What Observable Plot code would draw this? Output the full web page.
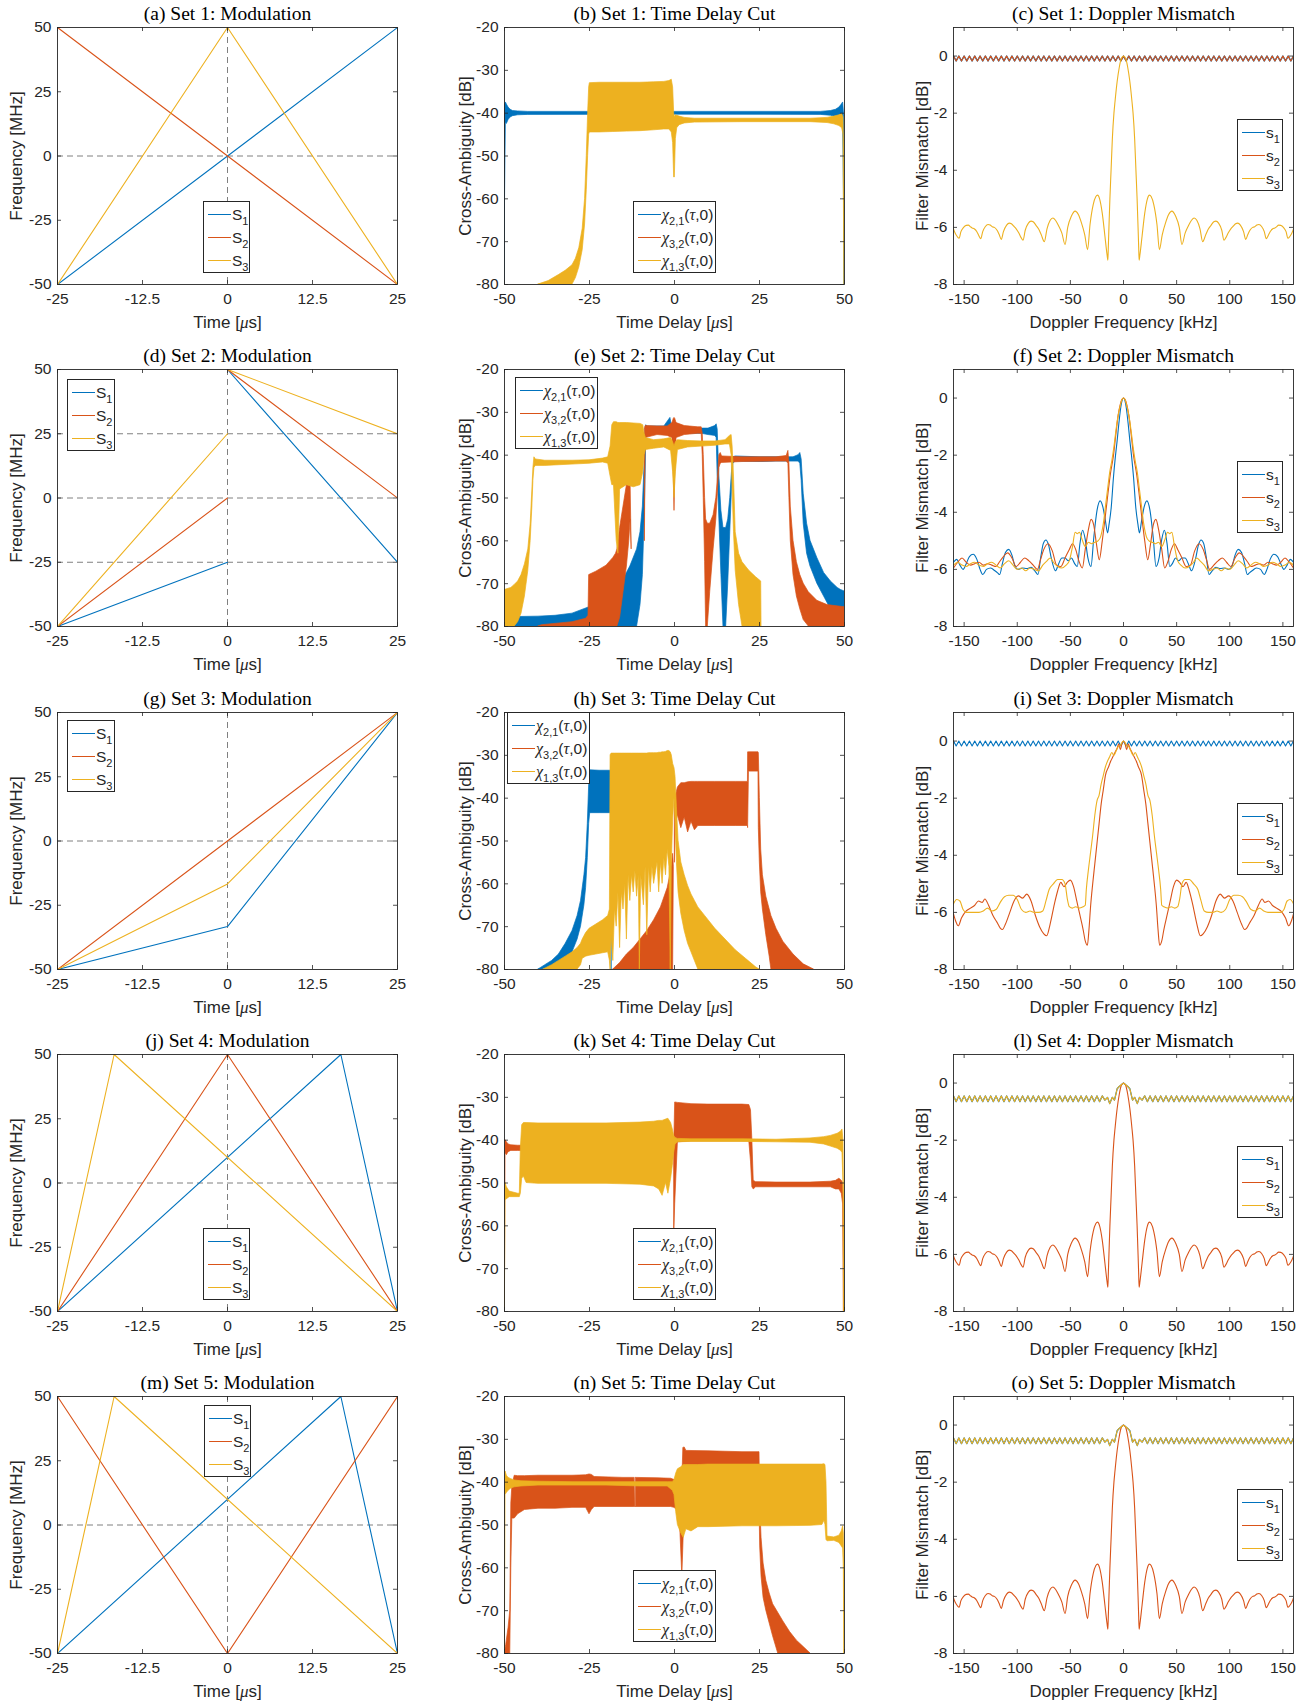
<!DOCTYPE html>
<html><head><meta charset="utf-8">
<script src="https://cdn.jsdelivr.net/npm/d3@7"></script>
<script src="https://cdn.jsdelivr.net/npm/@observablehq/plot@0.6"></script>
<style>
body{margin:0;background:#fff;}
#fig{position:relative;width:1314px;height:1708px;background:#fff;overflow:hidden;}
.panel{position:absolute;}
.leg{position:absolute;box-sizing:border-box;border:1px solid #262626;background:#fff;font-family:"Liberation Sans",Arial,sans-serif;font-size:15.5px;color:#262626;padding-top:1px;}
.leg .row{display:flex;align-items:center;height:23px;white-space:nowrap;}
.leg .sw{display:inline-block;width:23px;height:0;margin-left:4px;margin-right:1px;}
.leg sub{font-size:11px;vertical-align:-5px;line-height:0;}
.leg .gk{font-family:"Liberation Serif","Times New Roman",serif;font-style:italic;font-size:16px;}
</style></head>
<body><div id="fig"></div>
<script>
// ---------- colours ----------
const C = {blue:"#0072BD", orange:"#D95319", yellow:"#EDB120"};

// ---------- modulation data (time µs, frequency MHz), arrays of segments ----------
const modA_S1 = [[[-25,-50],[25,50]]];
const modA_S2 = [[[-25,50],[25,-50]]];
const modA_S3 = [[[-25,-50],[0,50],[25,-50]]];
const modA_hdash = [0], modA_vdash = [0];

const modD_S1 = [[[-25,-50],[0,-25]],[[0,50],[25,-25]]];
const modD_S2 = [[[-25,-50],[0,0]],[[0,50],[25,0]]];
const modD_S3 = [[[-25,-50],[0,25]],[[0,50],[25,25]]];
const modD_hdash = [-25,0,25], modD_vdash = [0];

const modG_S1 = [[[-25,-50],[0,-33.3],[25,50]]];
const modG_S2 = [[[-25,-50],[0,0],[25,50]]];
const modG_S3 = [[[-25,-50],[0,-16.7],[25,50]]];
const modG_hdash = [0], modG_vdash = [0];

const modJ_S1 = [[[-25,-50],[16.67,50],[25,-50]]];
const modJ_S2 = [[[-25,-50],[0,50],[25,-50]]];
const modJ_S3 = [[[-25,-50],[-16.67,50],[25,-50]]];
const modJ_hdash = [0], modJ_vdash = [0];

const modM_S1 = [[[-25,-50],[16.67,50],[25,-50]]];
const modM_S2 = [[[-25,50],[0,-50],[25,50]]];
const modM_S3 = [[[-25,-50],[-16.67,50],[25,-50]]];
const modM_hdash = [0], modM_vdash = [0];

// ---------- time delay cuts: segments of [delay µs, lower dB, upper dB] envelopes ----------
const tdcB_chi21 = [[
 [-50,-80,-45],[-49.85,-60,-38],[-49.6,-42.3,-37.5],[-49.3,-42.5,-38],[-48.8,-41.6,-38.7],[-48.2,-41,-39.2],[-47.5,-40.7,-39.5],[-46,-40.5,-39.6],[-43,-40.4,-39.7],[0,-40.35,-39.7],[43,-40.4,-39.7],[46,-40.6,-39.5],[47.5,-40.9,-39.2],[48.5,-41.5,-38.7],[49.2,-42,-38],[49.6,-42.5,-37.5],[49.85,-60,-40],[50,-80,-50]
]];
const tdcB_chi13 = [[
 [-40,-80,-80],[-37,-80,-79.2],[-34,-80,-77.8],[-32,-80,-76.8],[-30,-80,-75.5],[-29,-78.5,-74],[-28,-76,-71.5],[-27,-72,-67],[-26.3,-66,-60],[-25.8,-58,-50],[-25.4,-50,-40],[-25.1,-45,-34],[-24.9,-44.5,-33],[-22,-44.5,-32.9],[-18,-44.4,-32.9],[-14,-44.3,-32.9],[-10,-44.2,-32.9],[-6,-44,-32.8],[-3,-43.8,-32.7],[-1.5,-43.8,-32.5],[-0.8,-44.5,-32.2],[-0.4,-47,-34],[-0.1,-55,-40],[0.1,-55,-41],[0.4,-46,-40.5],[0.8,-43.5,-40.6],[1.5,-42.8,-40.8],[3,-42.4,-41.1],[6,-42.2,-41.3],[20,-42.1,-41.3],[40,-42.1,-41.3],[45,-42.3,-41.1],[47,-42.6,-40.8],[48.5,-43,-40.5],[49.3,-43.5,-40.2],[49.7,-45,-41],[49.9,-70,-50],[50,-80,-80]
]];

const tdcE_chi21 = [[
 [-47.5,-80,-80],[-47,-80,-77.8],[-40,-80,-77.7],[-35,-80,-77.5],[-30,-80,-77],[-25,-80,-75.5],[-20,-80,-73.5],[-17,-80,-72],[-16.5,-80,-71.5],[-15,-80,-69],[-13,-80,-66],[-11,-80,-62],[-10,-75,-58],[-9.3,-68,-52],[-8.8,-55,-42],[-8.5,-45,-33.5],[-8.3,-35,-33],[-8,-35,-33.3],[-3,-35,-33.3],[-1.2,-35,-31.3],[-0.8,-35,-33],[2,-35,-33.5],[8,-35,-33.8],[10,-35.3,-33.8],[12,-35.5,-33.2],[12.4,-36,-32.8],[12.7,-45,-34],[13.2,-55,-45],[13.8,-68,-53],[14.4,-80,-57],[15.2,-80,-57],[15.8,-70,-55],[16.4,-58,-50],[16.9,-48,-44],[17.3,-42,-40.5],[18,-41.5,-40.3],[25,-41.6,-40.5],[30,-41.5,-40.5],[35,-41.5,-40.5],[36.5,-41.5,-40],[37,-42,-39.5],[37.4,-46,-41],[38,-56,-49],[39,-63,-56],[40,-66,-60],[42,-70,-64],[44,-73,-67.5],[46,-76,-69.5],[48,-79,-71],[49,-80,-71.5],[50,-80,-71.8]
]];
const tdcE_chi32 = [[
 [-40,-80,-80],[-39,-80,-79.7],[-30,-80,-79],[-26,-80,-78.2],[-25.3,-80,-77.5],[-25.1,-80,-68],[-23,-80,-67.2],[-20,-80,-65.8],[-18,-80,-64],[-17.2,-80,-63],[-16.8,-80,-62],[-16,-78,-57],[-15,-72,-52],[-14,-66,-47],[-13.3,-60,-45],[-12.9,-55,-47],[-12.6,-62,-62]
],[
 [-8.7,-60,-34],[-8.5,-36,-33.2],[-5,-35.3,-33.3],[-2,-35.5,-33.3],[-0.6,-36,-32.5],[-0.2,-45,-31.5],[0,-53,-31.3],[0.2,-45,-31.5],[0.6,-36,-32.5],[3,-35.3,-33.2],[7,-35,-33.5],[8,-35,-33.5],[8.3,-40,-35],[8.6,-50,-40],[9,-65,-50],[9.3,-80,-55],[9.8,-80,-56],[10.5,-72,-56],[11.5,-62,-54],[12.3,-55,-50],[12.8,-48,-45],[13.2,-43,-40],[13.6,-42,-39.5],[14,-41.8,-40.3],[20,-41.6,-40.5],[30,-41.5,-40.5],[33,-41.5,-40.2],[33.5,-42,-39],[33.8,-50,-42],[34.2,-60,-52],[35,-68,-60],[36,-73,-65],[37,-76,-68],[38,-78.5,-70],[39.5,-80,-72],[42,-80,-74],[45,-80,-75],[50,-80,-75.5]
]];
const tdcE_chi13 = [[
 [-50,-80,-71.5],[-48,-80,-71],[-47,-80,-70.3],[-46,-79,-69.5],[-45,-77,-68],[-44,-73,-65.5],[-43,-67,-62],[-42.3,-60,-56],[-41.8,-52,-48],[-41.5,-46,-43],[-41.2,-43,-40.5],[-40.8,-42.5,-41],[-38,-42.5,-41.3],[-30,-42.2,-41.3],[-25,-42,-41.2],[-21,-41.7,-40.8],[-19.5,-42,-40.5],[-18.8,-45,-38],[-18.3,-47,-33],[-17.8,-47,-32.3],[-17,-60,-32.3],[-16.5,-63,-32.5],[-16,-48,-32.5],[-14,-47,-32.5],[-12,-47.5,-32.6],[-10,-47,-32.7],[-9.2,-44,-33],[-8.8,-40,-35],[-8.4,-38.8,-36],[-6,-38.5,-36.5],[-3,-38.2,-36.3],[-1,-39,-36],[-0.4,-44,-37],[0,-50,-38],[0.4,-44,-37],[1,-38.8,-36.5],[4,-38.2,-36.7],[8,-38,-36.8],[12,-37.8,-36.8],[15,-37.5,-36.5],[16.3,-37.5,-35.5],[16.8,-40,-35.3],[17.1,-48,-38],[17.5,-58,-45],[18,-67,-58],[19,-75,-63],[20,-80,-65],[22,-80,-67],[24,-80,-68.5],[25.5,-80,-69.5],[25.6,-80,-80]
]];

const tdcH_chi21 = [[
 [-40,-80,-80],[-38,-80,-79],[-36,-80,-78],[-34,-79.5,-76.5],[-32,-78,-74],[-30,-76,-71],[-28.5,-73,-67.5],[-27.5,-70,-64],[-26.5,-65,-58],[-26,-61,-54],[-25.5,-54,-46],[-25.1,-46,-37],[-24.8,-43.5,-33.5],[-22,-43.5,-33.6],[-19,-43.5,-33.6],[-18.6,-43.5,-33.6],[-18.5,-80,-80]
]];
const tdcH_chi32 = [[
 [-18,-80,-80],[-16,-80,-78.5],[-14,-80,-76.5],[-12,-80,-75],[-10,-80,-73],[-8,-80,-71],[-6,-80,-68.5],[-4,-80,-65.5],[-2,-80,-61],[-1,-80,-57],[-0.4,-80,-53],[-0.2,-56,-56]
],[
 [0.1,-55,-42],[0.4,-46,-39.5],[1,-44,-37.5],[2,-47,-36.5],[3,-44.5,-36.5],[4,-48,-36.3],[5,-45.5,-36.2],[6,-47.5,-36.2],[7,-46.5,-36.2],[12,-46.5,-36.2],[18,-46.5,-36.2],[21.6,-46.5,-36.2],[21.65,-47,-29.3],[21.9,-33.8,-29.3],[24.7,-33.8,-29.3],[24.8,-47,-29.5],[25.1,-55,-40],[25.5,-62,-52],[26,-66,-58],[27,-72,-63],[28,-77,-66],[28.5,-80,-67.5],[30,-80,-70.5],[32,-80,-73.5],[35,-80,-76.5],[38,-80,-78.8],[41,-80,-80]
]];
const tdcH_chi13 = [[
 [-38.5,-80,-80],[-36,-80,-79],[-34,-80,-78],[-32,-80,-77],[-30,-80,-76],[-28.5,-80,-75],[-27.5,-79,-74],[-27,-77.5,-73],[-26,-77,-71.5],[-25,-76.8,-70.5],[-23,-76.5,-69.5],[-21,-76.2,-68.5],[-19.5,-76,-67.5],[-19,-78,-66],
 [-18.8,-80,-30],[-18.5,-72,-29.6],[-18,-78,-29.6],[-17.5,-66,-29.6],[-17,-70,-29.6],[-16.5,-62,-29.6],[-16,-75,-29.6],[-15.5,-62,-29.6],[-15,-66,-29.6],[-14.5,-60,-29.6],[-14,-73,-29.6],[-13.5,-58,-29.6],[-13,-64,-29.6],[-12.5,-58,-29.6],[-12,-62,-29.6],[-11.5,-57,-29.6],[-11,-63,-29.6],[-10.5,-58,-29.6],[-10.2,-80,-29.6],[-9.8,-58,-29.6],[-9,-65,-29.6],[-8.5,-56,-29.6],[-8,-72,-29.6],[-7.5,-56,-29.5],[-7,-62,-29.5],[-6.5,-56,-29.5],[-6,-60,-29.5],[-5,-55,-29.5],[-4.5,-62,-29.4],[-4,-55,-29.4],[-3.5,-60,-29.3],[-3,-54,-29.3],[-2.5,-58,-29.2],[-2,-52,-29],[-1.5,-56,-29],[-1.1,-80,-29.3],[-0.8,-56,-30],[-0.4,-45,-32],[0,-40,-33],[0.3,-45,-35],[0.7,-55,-42],[1.2,-62,-50],[2,-67,-55],[3,-71,-58],[4,-74,-60.5],[5,-76,-62.5],[6,-78,-64],[7,-80,-65.5],[9,-80,-67.5],[12,-80,-70.5],[15,-80,-73],[18,-80,-75.5],[21,-80,-77.5],[24,-80,-79.5],[25,-80,-80]
]];

const tdcK_chi32 = [[
 [-50,-80,-80],[-49.9,-80,-45],[-49.7,-43,-40],[-49.3,-43.5,-40.5],[-48.8,-42.8,-41],[-48,-42.5,-41.2],[-46,-42.5,-41.3],[-44,-42.5,-41.3],[-43.8,-42.5,-42.5]
],[
 [-0.1,-63,-42],[0.2,-55,-31.2],[1,-40.5,-31.3],[5,-40.3,-31.6],[10,-40.3,-31.7],[20,-40.3,-31.7],[22,-40.3,-31.8],[22.5,-45,-33],[22.9,-51,-40],[23.3,-51.5,-49.5],[24,-51,-49.8],[30,-51,-49.9],[40,-51,-49.9],[46,-51,-49.7],[47.5,-51.5,-49.5],[48.5,-51.5,-49],[49.2,-52.5,-49.5],[49.6,-55,-50],[49.8,-80,-55],[49.9,-80,-80]
]];
const tdcK_chi13 = [[
 [-50,-80,-80],[-49.9,-80,-55],[-49.7,-54,-50],[-49.3,-53.8,-51],[-48.5,-53.3,-52],[-46,-53.3,-52.5],[-45.5,-53.3,-52.5],[-45.2,-52.5,-42],[-44.8,-49,-36.5],[-44.3,-48.5,-36],[-43.5,-50,-36],[-40,-50.2,-36.1],[-30,-50.2,-36.1],[-20,-50.2,-36.1],[-10,-50.4,-35.9],[-6,-50.8,-35.7],[-4.5,-51.5,-35.5],[-3.5,-53,-35.5],[-2.5,-50,-35.2],[-1.8,-52.5,-35],[-1,-49,-36],[-0.5,-46,-37.5],[-0.1,-43,-39],[0.3,-41,-39.5],[1,-40.5,-39.7],[5,-40.4,-39.8],[20,-40.4,-39.8],[30,-40.5,-39.9],[40,-40.6,-39.6],[44,-41,-39.3],[46,-41.5,-39],[48,-42,-38.5],[49,-42.5,-38],[49.4,-43,-37.5],[49.7,-50,-40],[49.9,-80,-60],[50,-80,-80]
]];

const tdcN_chi32 = [[
 [-50,-80,-80],[-49.5,-80,-78],[-48.8,-80,-74],[-48.3,-80,-70],[-48,-60,-45],[-47.7,-48.5,-41],[-47,-48.5,-38.5],[-46,-47.5,-38.6],[-44,-46.5,-38.6],[-40,-46.2,-38.5],[-35,-46.2,-38.5],[-30,-46,-38.5],[-26,-46,-38.4],[-25,-47.5,-38.2],[-24.3,-46.5,-38.3],[-23.5,-45.8,-38.8],[-15,-45.8,-39],[-11.8,-45.8,-39],[-11.6,-45.8,-45.8]
],[
 [-11.4,-45.8,-39],[-5,-45.8,-39.1],[-1,-45.8,-39.2],[0,-46,-39.5],[1.5,-47,-40],[2.3,-62,-40],[2.6,-55,-32],[3,-45,-31.9],[3.5,-42,-32.7],[10,-42,-32.8],[20,-42,-33],[24.7,-42,-33],[25,-45,-33],[25.2,-55,-45],[25.6,-62,-53],[26.2,-67,-59],[27,-70,-63],[28,-73,-66],[29,-76,-68.5],[30.5,-80,-70.5],[32,-80,-72.5],[34,-80,-75],[36,-80,-77],[38,-80,-78.5],[40,-80,-80]
]];
const tdcN_chi13 = [[
 [-50,-80,-80],[-49.9,-80,-45],[-49.7,-43,-37.5],[-49.3,-42.5,-38.5],[-48.8,-42,-39],[-48,-41.5,-39.3],[-47,-41.2,-39.6],[-45,-41,-39.8],[-40,-40.8,-39.9],[-30,-40.8,-40],[-20,-40.8,-40],[-10,-41,-40],[-2,-41,-40],[-0.5,-42,-40],[0,-43,-39.5],[0.5,-47,-38],[1,-50,-37],[2,-52,-36.5],[2.7,-53,-36],[3.5,-51,-36],[5,-51.5,-36],[7,-50.5,-36],[10,-50.5,-35.9],[20,-50.3,-35.9],[30,-50.3,-35.9],[40,-50.2,-35.9],[43.5,-50,-35.9],[44.1,-49,-35.8],[44.4,-50,-36],[44.7,-53.5,-40],[45,-53.8,-52.7],[47,-53.7,-52.9],[48.5,-54.2,-52.5],[49.2,-55,-51.5],[49.6,-55.5,-50.3],[49.8,-60,-52],[49.95,-80,-60],[50,-80,-80]
]];

// ---------- Doppler mismatch curves: [Doppler kHz, mismatch dB] ----------
const dopRippleTop = [[-160,0],[-157.5,-0.17],[-155,0],[-152.5,-0.17],[-150,0],[-147.5,-0.17],[-145,0],[-142.5,-0.17],[-140,0],[-137.5,-0.17],[-135,0],[-132.5,-0.17],[-130,0],[-127.5,-0.17],[-125,0],[-122.5,-0.17],[-120,0],[-117.5,-0.17],[-115,0],[-112.5,-0.17],[-110,0],[-107.5,-0.17],[-105,0],[-102.5,-0.17],[-100,0],[-97.5,-0.17],[-95,0],[-92.5,-0.17],[-90,0],[-87.5,-0.17],[-85,0],[-82.5,-0.17],[-80,0],[-77.5,-0.17],[-75,0],[-72.5,-0.17],[-70,0],[-67.5,-0.17],[-65,0],[-62.5,-0.17],[-60,0],[-57.5,-0.17],[-55,0],[-52.5,-0.17],[-50,0],[-47.5,-0.17],[-45,0],[-42.5,-0.17],[-40,0],[-37.5,-0.17],[-35,0],[-32.5,-0.17],[-30,0],[-27.5,-0.17],[-25,0],[-22.5,-0.17],[-20,0],[-17.5,-0.17],[-15,0],[-12.5,-0.17],[-10,0],[-7.5,-0.17],[-5,0],[-2.5,-0.17],[0,0],[2.5,-0.17],[5,0],[7.5,-0.17],[10,0],[12.5,-0.17],[15,0],[17.5,-0.17],[20,0],[22.5,-0.17],[25,0],[27.5,-0.17],[30,0],[32.5,-0.17],[35,0],[37.5,-0.17],[40,0],[42.5,-0.17],[45,0],[47.5,-0.17],[50,0],[52.5,-0.17],[55,0],[57.5,-0.17],[60,0],[62.5,-0.17],[65,0],[67.5,-0.17],[70,0],[72.5,-0.17],[75,0],[77.5,-0.17],[80,0],[82.5,-0.17],[85,0],[87.5,-0.17],[90,0],[92.5,-0.17],[95,0],[97.5,-0.17],[100,0],[102.5,-0.17],[105,0],[107.5,-0.17],[110,0],[112.5,-0.17],[115,0],[117.5,-0.17],[120,0],[122.5,-0.17],[125,0],[127.5,-0.17],[130,0],[132.5,-0.17],[135,0],[137.5,-0.17],[140,0],[142.5,-0.17],[145,0],[147.5,-0.17],[150,0],[152.5,-0.17],[155,0],[157.5,-0.17],[160,0]];

const dopRippleLow = [[-160,-0.45],[-157.5,-0.65],[-155,-0.45],[-152.5,-0.65],[-150,-0.45],[-147.5,-0.65],[-145,-0.45],[-142.5,-0.65],[-140,-0.45],[-137.5,-0.65],[-135,-0.45],[-132.5,-0.65],[-130,-0.45],[-127.5,-0.65],[-125,-0.45],[-122.5,-0.65],[-120,-0.45],[-117.5,-0.65],[-115,-0.45],[-112.5,-0.65],[-110,-0.45],[-107.5,-0.65],[-105,-0.45],[-102.5,-0.65],[-100,-0.45],[-97.5,-0.65],[-95,-0.45],[-92.5,-0.65],[-90,-0.45],[-87.5,-0.65],[-85,-0.45],[-82.5,-0.65],[-80,-0.45],[-77.5,-0.65],[-75,-0.45],[-72.5,-0.65],[-70,-0.45],[-67.5,-0.65],[-65,-0.45],[-62.5,-0.65],[-60,-0.45],[-57.5,-0.65],[-55,-0.45],[-52.5,-0.65],[-50,-0.45],[-47.5,-0.65],[-45,-0.45],[-42.5,-0.65],[-40,-0.45],[-37.5,-0.65],[-35,-0.45],[-32.5,-0.65],[-30,-0.45],[-27.5,-0.65],[-25,-0.45],[-22.5,-0.65],[-20,-0.45],[-17.5,-0.6],[-15,-0.5],[-13,-0.72],[-10.5,-0.5],[-8.5,-0.6],[-6,-0.2],[-4,-0.12],[-2,-0.06],[0,0],[2,-0.06],[4,-0.12],[6,-0.2],[8.5,-0.6],[10.5,-0.5],[13,-0.72],[15,-0.5],[17.5,-0.6],[20,-0.45],[22.5,-0.65],[25,-0.45],[27.5,-0.65],[30,-0.45],[32.5,-0.65],[35,-0.45],[37.5,-0.65],[40,-0.45],[42.5,-0.65],[45,-0.45],[47.5,-0.65],[50,-0.45],[52.5,-0.65],[55,-0.45],[57.5,-0.65],[60,-0.45],[62.5,-0.65],[65,-0.45],[67.5,-0.65],[70,-0.45],[72.5,-0.65],[75,-0.45],[77.5,-0.65],[80,-0.45],[82.5,-0.65],[85,-0.45],[87.5,-0.65],[90,-0.45],[92.5,-0.65],[95,-0.45],[97.5,-0.65],[100,-0.45],[102.5,-0.65],[105,-0.45],[107.5,-0.65],[110,-0.45],[112.5,-0.65],[115,-0.45],[117.5,-0.65],[120,-0.45],[122.5,-0.65],[125,-0.45],[127.5,-0.65],[130,-0.45],[132.5,-0.65],[135,-0.45],[137.5,-0.65],[140,-0.45],[142.5,-0.65],[145,-0.45],[147.5,-0.65],[150,-0.45],[152.5,-0.65],[155,-0.45],[157.5,-0.65],[160,-0.45]];

const dopSinc = [[-160,-6.05],[-158.5,-6.2],[-156.5,-6.32],[-154.7,-6.38],[-153,-6.15],[-150.5,-6.0],[-148,-5.93],[-146,-5.92],[-144,-5.98],[-142.5,-6.02],[-140.5,-6.05],[-138,-6.15],[-136,-6.3],[-134.4,-6.4],[-132.5,-6.15],[-130,-5.97],[-127.5,-5.9],[-125.5,-5.92],[-123.5,-5.98],[-121.5,-6.0],[-119,-6.1],[-117,-6.25],[-115,-6.42],[-113,-6.15],[-110,-5.92],[-107.5,-5.85],[-105.5,-5.87],[-103.5,-5.95],[-101,-6.05],[-98.5,-6.2],[-96.5,-6.35],[-94.5,-6.45],[-92.5,-6.1],[-89.5,-5.85],[-87,-5.78],[-85,-5.8],[-82.5,-5.92],[-80,-6.05],[-77.5,-6.25],[-74.5,-6.5],[-72,-6.05],[-69,-5.75],[-66.5,-5.67],[-64,-5.75],[-61,-5.95],[-58,-6.2],[-55,-6.6],[-52.5,-6.0],[-49,-5.6],[-45.5,-5.43],[-42.5,-5.55],[-39.5,-5.85],[-36.5,-6.25],[-33.8,-6.78],[-31.5,-5.9],[-28.5,-5.2],[-26,-4.92],[-24.4,-4.87],[-22.5,-5.0],[-20,-5.5],[-17.5,-6.3],[-15.5,-6.95],[-14.7,-7.15],[-14.3,-6.7],[-13.7,-6.0],[-12.8,-5.0],[-11.7,-4.0],[-10.5,-2.9],[-9,-2.0],[-8,-1.6],[-6,-0.9],[-4,-0.4],[-2,-0.08],[0,0],
 [2,-0.08],[4,-0.4],[6,-0.9],[8,-1.6],[9,-2.0],[10.5,-2.9],[11.7,-4.0],[12.8,-5.0],[13.7,-6.0],[14.3,-6.7],[14.7,-7.15],[15.5,-6.95],[17.5,-6.3],[20,-5.5],[22.5,-5.0],[24.4,-4.87],[26,-4.92],[28.5,-5.2],[31.5,-5.9],[33.8,-6.78],[36.5,-6.25],[39.5,-5.85],[42.5,-5.55],[45.5,-5.43],[49,-5.6],[52.5,-6.0],[55,-6.6],[58,-6.2],[61,-5.95],[64,-5.75],[66.5,-5.67],[69,-5.75],[72,-6.05],[74.5,-6.5],[77.5,-6.25],[80,-6.05],[82.5,-5.92],[85,-5.8],[87,-5.78],[89.5,-5.85],[92.5,-6.1],[94.5,-6.45],[96.5,-6.35],[98.5,-6.2],[101,-6.05],[103.5,-5.95],[105.5,-5.87],[107.5,-5.85],[110,-5.92],[113,-6.15],[115,-6.42],[117,-6.25],[119,-6.1],[121.5,-6.0],[123.5,-5.98],[125.5,-5.92],[127.5,-5.9],[130,-5.97],[132.5,-6.15],[134.4,-6.4],[136,-6.3],[138,-6.15],[140.5,-6.05],[142.5,-6.02],[144,-5.98],[146,-5.92],[148,-5.93],[150.5,-6.0],[153,-6.15],[154.7,-6.38],[156.5,-6.32],[158.5,-6.2],[160,-6.05]];

const dopF_s1 = [[-160,-5.75],[-157,-5.65],[-154,-5.85],[-151,-6.0],[-148,-5.8],[-145,-5.55],[-141.5,-5.47],[-138,-5.65],[-135,-6.0],[-132.5,-6.18],[-129,-6.0],[-125,-5.95],[-121,-6.05],[-118.5,-6.12],[-116.5,-6.18],[-114,-5.8],[-111,-5.4],[-108,-5.3],[-105,-5.5],[-102,-5.9],[-99,-6.0],[-95,-5.95],[-91,-5.97],[-87,-5.93],[-83.5,-6.05],[-80.5,-6.18],[-78,-5.6],[-75.5,-5.1],[-73,-4.97],[-70.5,-5.15],[-68,-5.6],[-64,-6.05],[-61,-5.8],[-58,-5.6],[-55,-5.6],[-52,-5.7],[-49,-5.6],[-46,-5.8],[-43.5,-5.9],[-41,-5.1],[-38.5,-4.63],[-36,-4.95],[-33.5,-5.6],[-30.6,-5.9],[-28,-4.9],[-25,-3.95],[-22,-3.6],[-19.5,-3.8],[-17,-4.3],[-15,-4.72],[-13.5,-4.4],[-11.6,-3.85],[-9.5,-2.8],[-7.5,-2.0],[-6,-1.5],[-4.4,-0.9],[-2,-0.2],[0,0],
 [2,-0.2],[4.4,-0.9],[6,-1.5],[7.5,-2.0],[9.5,-2.8],[11.6,-3.85],[13.5,-4.4],[15,-4.72],[17,-4.3],[19.5,-3.8],[22,-3.6],[25,-3.95],[28,-4.9],[30.6,-5.9],[33.5,-5.6],[36,-4.95],[38.5,-4.63],[41,-5.1],[43.5,-5.9],[46,-5.8],[49,-5.6],[52,-5.7],[55,-5.6],[58,-5.6],[61,-5.8],[64,-6.05],[68,-5.6],[70.5,-5.15],[73,-4.97],[75.5,-5.1],[78,-5.6],[80.5,-6.18],[83.5,-6.05],[87,-5.93],[91,-5.97],[95,-5.95],[99,-6.0],[102,-5.9],[105,-5.5],[108,-5.3],[111,-5.4],[114,-5.8],[116.5,-6.18],[118.5,-6.12],[121,-6.05],[125,-5.95],[129,-6.0],[132.5,-6.18],[135,-6.0],[138,-5.65],[141.5,-5.47],[145,-5.55],[148,-5.8],[151,-6.0],[154,-5.85],[157,-5.65],[160,-5.75]];

const dopF_s2 = [[-160,-5.95],[-156,-5.75],[-152,-5.6],[-148,-5.75],[-144,-5.85],[-140,-5.8],[-136,-5.75],[-132,-5.85],[-128,-5.8],[-124,-5.85],[-120,-5.9],[-117,-5.75],[-113,-5.55],[-109,-5.42],[-105,-5.6],[-101,-5.9],[-97,-5.75],[-93,-5.6],[-89,-5.7],[-85,-5.85],[-81,-6.0],[-78,-5.65],[-75,-5.3],[-71,-5.1],[-67,-5.35],[-63,-5.85],[-59,-5.9],[-55,-5.6],[-51,-5.3],[-48,-5.1],[-45,-5.3],[-42,-5.7],[-38.75,-5.95],[-36,-5.3],[-33,-4.6],[-30.5,-4.25],[-28,-4.45],[-25.5,-5.1],[-22.8,-5.66],[-20,-5.0],[-17,-4.1],[-14.5,-3.3],[-12.5,-2.7],[-9.4,-2.0],[-7,-1.2],[-5,-0.6],[-3,-0.22],[-1.5,-0.05],[0,0],
 [1.5,-0.05],[3,-0.22],[5,-0.6],[7,-1.2],[9.4,-2.0],[12.5,-2.7],[14.5,-3.3],[17,-4.1],[20,-5.0],[22.8,-5.66],[25.5,-5.1],[28,-4.45],[30.5,-4.25],[33,-4.6],[36,-5.3],[38.75,-5.95],[42,-5.7],[45,-5.3],[48,-5.1],[51,-5.3],[55,-5.6],[59,-5.9],[63,-5.85],[67,-5.35],[71,-5.1],[75,-5.3],[78,-5.65],[81,-6.0],[85,-5.85],[89,-5.7],[93,-5.6],[97,-5.75],[101,-5.9],[105,-5.6],[109,-5.42],[113,-5.55],[117,-5.75],[120,-5.9],[124,-5.85],[128,-5.8],[132,-5.85],[136,-5.75],[140,-5.8],[144,-5.85],[148,-5.75],[152,-5.6],[156,-5.75],[160,-5.95]];

const dopF_s3 = [[-160,-5.85],[-156,-5.75],[-152,-5.85],[-148,-5.9],[-144,-5.8],[-140,-5.75],[-136,-5.85],[-132,-5.9],[-128,-5.8],[-124,-5.75],[-120,-5.85],[-116,-5.95],[-112,-5.8],[-108,-5.7],[-104,-5.85],[-100,-6.0],[-96,-5.95],[-92,-6.05],[-88,-5.95],[-84,-6.0],[-80,-6.05],[-76,-5.85],[-72,-5.7],[-69,-5.6],[-66,-5.75],[-62,-5.9],[-58,-5.95],[-54,-5.85],[-51,-5.7],[-48,-5.2],[-45.5,-4.7],[-43.5,-4.75],[-41.5,-4.7],[-39,-4.95],[-36,-5.2],[-33,-5.05],[-30,-5.1],[-27,-5.05],[-24,-5.0],[-21.5,-4.85],[-19,-4.4],[-17,-3.8],[-15,-3.2],[-13,-2.6],[-11,-2.2],[-9,-1.7],[-7,-1.1],[-5,-0.6],[-3,-0.25],[-1.5,-0.06],[0,0],
 [1.5,-0.06],[3,-0.25],[5,-0.6],[7,-1.1],[9,-1.7],[11,-2.2],[13,-2.6],[15,-3.2],[17,-3.8],[19,-4.4],[21.5,-4.85],[24,-5.0],[27,-5.05],[30,-5.1],[33,-5.05],[36,-5.2],[39,-4.95],[41.5,-4.7],[43.5,-4.75],[45.5,-4.7],[48,-5.2],[51,-5.7],[54,-5.85],[58,-5.95],[62,-5.9],[66,-5.75],[69,-5.6],[72,-5.7],[76,-5.85],[80,-6.05],[84,-6.0],[88,-5.95],[92,-6.05],[96,-5.95],[100,-6.0],[104,-5.85],[108,-5.7],[112,-5.8],[116,-5.95],[120,-5.85],[124,-5.75],[128,-5.8],[132,-5.9],[136,-5.85],[140,-5.75],[144,-5.8],[148,-5.9],[152,-5.85],[156,-5.75],[160,-5.85]];

const dopI_s2 = [[-160,-6.05],[-158,-6.3],[-155.5,-6.47],[-152.5,-6.2],[-148,-5.95],[-144,-5.85],[-140,-5.75],[-136.5,-5.6],[-133,-5.65],[-130.5,-5.53],[-127,-5.75],[-123,-6.1],[-119,-6.35],[-116,-6.55],[-114,-6.6],[-111,-6.4],[-107,-6.0],[-103,-5.6],[-99,-5.42],[-95,-5.5],[-91,-5.36],[-87,-5.6],[-83,-6.1],[-79,-6.5],[-75,-6.75],[-72.3,-6.82],[-69,-6.4],[-65,-5.7],[-62,-5.25],[-59,-4.95],[-56,-5.1],[-53,-4.95],[-50,-4.87],[-47,-5.1],[-44,-5.6],[-41,-6.1],[-38,-6.6],[-36,-7.0],[-34,-7.15],[-32.5,-6.6],[-31,-5.8],[-29,-5.0],[-27,-4.3],[-25,-3.6],[-23,-2.9],[-21,-2.2],[-19,-1.7],[-17,-1.2],[-14,-0.9],[-12,-0.7],[-10,-0.55],[-8,-0.4],[-6,-0.25],[-4.5,-0.1],[-3,-0.3],[-1.5,-0.1],[0,0],
 [1.5,-0.1],[3,-0.3],[4.5,-0.1],[6,-0.25],[8,-0.4],[10,-0.55],[12,-0.7],[14,-0.9],[17,-1.2],[19,-1.7],[21,-2.2],[23,-2.9],[25,-3.6],[27,-4.3],[29,-5.0],[31,-5.8],[32.5,-6.6],[34,-7.15],[36,-7.0],[38,-6.6],[41,-6.1],[44,-5.6],[47,-5.1],[50,-4.87],[53,-4.95],[56,-5.1],[59,-4.95],[62,-5.25],[65,-5.7],[69,-6.4],[72.3,-6.82],[75,-6.75],[79,-6.5],[83,-6.1],[87,-5.6],[91,-5.36],[95,-5.5],[99,-5.42],[103,-5.6],[107,-6.0],[111,-6.4],[114,-6.6],[116,-6.55],[119,-6.35],[123,-6.1],[127,-5.75],[130.5,-5.53],[133,-5.65],[136.5,-5.6],[140,-5.75],[144,-5.85],[148,-5.95],[152.5,-6.2],[155.5,-6.47],[158,-6.3],[160,-6.05]];

const dopI_s3 = [[-160,-5.7],[-157,-5.55],[-154,-5.6],[-151,-5.9],[-148,-6.0],[-144,-6.0],[-140,-6.0],[-136,-6.0],[-132,-5.95],[-128,-5.85],[-124,-5.95],[-120,-5.9],[-116,-5.65],[-112,-5.45],[-108,-5.4],[-104,-5.4],[-100,-5.55],[-96,-5.9],[-92,-6.0],[-88,-5.95],[-84,-6.0],[-80,-6.0],[-76,-5.95],[-73,-5.6],[-70,-5.2],[-66,-5.0],[-62,-4.85],[-58,-4.85],[-55,-5.0],[-53,-5.5],[-51,-5.8],[-48,-5.85],[-45,-5.8],[-42,-5.85],[-38,-5.8],[-36,-5.75],[-35,-5.2],[-33,-4.5],[-31,-3.9],[-29,-3.3],[-27,-2.6],[-25,-2.1],[-23,-1.9],[-21,-1.5],[-19,-1.2],[-17,-0.9],[-15,-0.7],[-13,-0.55],[-11,-0.4],[-9,-0.5],[-7,-0.35],[-5,-0.2],[-3,-0.15],[-1.5,-0.05],[0,0],
 [1.5,-0.05],[3,-0.15],[5,-0.2],[7,-0.35],[9,-0.5],[11,-0.4],[13,-0.55],[15,-0.7],[17,-0.9],[19,-1.2],[21,-1.5],[23,-1.9],[25,-2.1],[27,-2.6],[29,-3.3],[31,-3.9],[33,-4.5],[35,-5.2],[36,-5.75],[38,-5.8],[42,-5.85],[45,-5.8],[48,-5.85],[51,-5.8],[53,-5.5],[55,-5.0],[58,-4.85],[62,-4.85],[66,-5.0],[70,-5.2],[73,-5.6],[76,-5.95],[80,-6.0],[84,-6.0],[88,-5.95],[92,-6.0],[96,-5.9],[100,-5.55],[104,-5.4],[108,-5.4],[112,-5.45],[116,-5.65],[120,-5.9],[124,-5.95],[128,-5.85],[132,-5.95],[136,-6.0],[140,-6.0],[144,-6.0],[148,-6.0],[151,-5.9],[154,-5.6],[157,-5.55],[160,-5.7]];

// ---------- axis ticks & labels ----------
const modXTicks = [-25,-12.5,0,12.5,25], modYTicks = [-50,-25,0,25,50];
const tdcXTicks = [-50,-25,0,25,50], tdcYTicks = [-80,-70,-60,-50,-40,-30,-20];
const dopXTicks = [-150,-100,-50,0,50,100,150], dopYTicks = [-8,-6,-4,-2,0];
const titles = ["(a) Set 1: Modulation","(b) Set 1: Time Delay Cut","(c) Set 1: Doppler Mismatch",
 "(d) Set 2: Modulation","(e) Set 2: Time Delay Cut","(f) Set 2: Doppler Mismatch",
 "(g) Set 3: Modulation","(h) Set 3: Time Delay Cut","(i) Set 3: Doppler Mismatch",
 "(j) Set 4: Modulation","(k) Set 4: Time Delay Cut","(l) Set 4: Doppler Mismatch",
 "(m) Set 5: Modulation","(n) Set 5: Time Delay Cut","(o) Set 5: Doppler Mismatch"];

// ---------- layout ----------
const PW = 438, PH = 342, MT = 27, MB = 58;
const colLeft = [0, 438, 876];
const rowTop = [0, 342, 685, 1027, 1369];
const colMargins = [{l:57,r:41},{l:66,r:32},{l:77,r:21}];
const yLabelOff = [41, 39, 31];
const FW = 340, FH = PH - MT - MB;

const KIND = {
 mod:{xd:[-25,25], xt:modXTicks, yd:[-50,50], yt:modYTicks, xl:"Time [μs]", yl:"Frequency [MHz]"},
 tdc:{xd:[-50,50], xt:tdcXTicks, yd:[-80,-20], yt:tdcYTicks, xl:"Time Delay [μs]", yl:"Cross-Ambiguity [dB]"},
 dop:{xd:[-160,160], xt:dopXTicks, yd:[-8,1], yt:dopYTicks, xl:"Doppler Frequency [kHz]", yl:"Filter Mismatch [dB]"}
};

function segRows(segs){ const out=[]; segs.forEach((s,i)=>s.forEach(p=>out.push({x:p[0],y:p[1],seg:i}))); return out; }
function bandRows(segs){ const out=[]; segs.forEach((s,i)=>s.forEach(p=>out.push({x:p[0],lo:p[1],hi:p[2],seg:i}))); return out; }
function ptRows(arr){ return arr.map(p=>({x:p[0],y:p[1]})); }

function modMarks(S1,S2,S3,hd,vd){
 return [
  Plot.ruleY(hd,{y:d=>d, stroke:"#808080", strokeWidth:1, strokeDasharray:"6,4"}),
  Plot.ruleX(vd,{x:d=>d, stroke:"#808080", strokeWidth:1, strokeDasharray:"6,4"}),
  Plot.line(segRows(S1),{x:"x",y:"y",z:"seg",stroke:C.blue,strokeWidth:1.1,clip:true}),
  Plot.line(segRows(S2),{x:"x",y:"y",z:"seg",stroke:C.orange,strokeWidth:1.1,clip:true}),
  Plot.line(segRows(S3),{x:"x",y:"y",z:"seg",stroke:C.yellow,strokeWidth:1.1,clip:true})
 ];
}
function band(segs,color){
 return Plot.areaY(bandRows(segs),{x:"x",y1:"lo",y2:"hi",z:"seg",fill:color,stroke:color,strokeWidth:0.7,clip:true});
}
function dline(arr,color,w=1.1,curve="monotone-x"){
 return Plot.line(ptRows(arr),{x:"x",y:"y",stroke:color,strokeWidth:w,curve,clip:true});
}

const panelMarks = [
 modMarks(modA_S1,modA_S2,modA_S3,modA_hdash,modA_vdash),
 [band(tdcB_chi21,C.blue), band(tdcB_chi13,C.yellow)],
 [dline(dopRippleTop,C.blue,1.4,"linear"), dline(dopRippleTop,C.orange,1.1,"linear"), dline(dopSinc,C.yellow)],
 modMarks(modD_S1,modD_S2,modD_S3,modD_hdash,modD_vdash),
 [band(tdcE_chi21,C.blue), band(tdcE_chi32,C.orange), band(tdcE_chi13,C.yellow)],
 [dline(dopF_s1,C.blue), dline(dopF_s2,C.orange), dline(dopF_s3,C.yellow)],
 modMarks(modG_S1,modG_S2,modG_S3,modG_hdash,modG_vdash),
 [band(tdcH_chi21,C.blue), band(tdcH_chi32,C.orange), band(tdcH_chi13,C.yellow)],
 [dline(dopRippleTop,C.blue,1.1,"linear"), dline(dopI_s2,C.orange), dline(dopI_s3,C.yellow)],
 modMarks(modJ_S1,modJ_S2,modJ_S3,modJ_hdash,modJ_vdash),
 [band(tdcK_chi32,C.orange), band(tdcK_chi13,C.yellow)],
 [dline(dopRippleLow,C.blue,1.25,"linear"), dline(dopSinc,C.orange), dline(dopRippleLow,C.yellow,1.1,"linear")],
 modMarks(modM_S1,modM_S2,modM_S3,modM_hdash,modM_vdash),
 [band(tdcN_chi32,C.orange), band(tdcN_chi13,C.yellow)],
 [dline(dopRippleLow,C.blue,1.25,"linear"), dline(dopSinc,C.orange), dline(dopRippleLow,C.yellow,1.1,"linear")]
];

const fig = document.getElementById("fig");
const kinds = ["mod","tdc","dop"];
titles.forEach((title, i) => {
 const row = Math.floor(i/3), col = i%3;
 const K = KIND[kinds[col]];
 const m = colMargins[col];
 const fmt = d => String(d);
 const svg = Plot.plot({
  width: PW, height: PH, marginLeft: m.l, marginRight: m.r, marginTop: MT, marginBottom: MB,
  x: {domain: K.xd}, y: {domain: K.yd},
  style: {fontFamily: "'Liberation Sans', Arial, sans-serif", fontSize: "15.5px", color: "#262626", background: "transparent", overflow: "visible"},
  marks: [
   ...panelMarks[i],
   Plot.tickX(K.xt,{x:d=>d, insetTop:FH-4, stroke:"#262626", strokeWidth:0.8}),
   Plot.tickX(K.xt,{x:d=>d, insetBottom:FH-4, stroke:"#262626", strokeWidth:0.8}),
   Plot.tickY(K.yt,{y:d=>d, insetRight:FW-4, stroke:"#262626", strokeWidth:0.8}),
   Plot.tickY(K.yt,{y:d=>d, insetLeft:FW-4, stroke:"#262626", strokeWidth:0.8}),
   Plot.axisX(K.xt,{tickSize:0, tickPadding:8, tickFormat:fmt, label:null, fontSize:15.5, fill:"#262626"}),
   Plot.axisY(K.yt,{tickSize:0, tickPadding:6, tickFormat:fmt, label:null, fontSize:15.5, fill:"#262626"}),
   Plot.frame({stroke:"#262626", strokeWidth:0.9}),
   Plot.text([title],{text:d=>d, frameAnchor:"top", lineAnchor:"middle", textAnchor:"middle", dy:-14, fontFamily:"'Liberation Serif','Times New Roman',serif", fontSize:19.5, fill:"#000"}),
   Plot.text([K.xl],{text:d=>d, frameAnchor:"bottom", lineAnchor:"middle", textAnchor:"middle", dy:38, fontSize:17, fill:"#262626"}),
   Plot.text([K.yl],{text:d=>d, frameAnchor:"left", lineAnchor:"middle", textAnchor:"middle", dx:-yLabelOff[col], rotate:-90, fontSize:17, fill:"#262626"})
  ]
 });
 svg.classList.add("panel");
 svg.style.left = colLeft[col] + "px";
 svg.style.top = rowTop[row] + "px";
 svg.querySelectorAll("text").forEach(t => {
  if (t.textContent.includes("μ") && t.children.length === 0) {
   const parts = t.textContent.split("μ");
   t.innerHTML = parts[0] + '<tspan font-family="Liberation Serif, serif" font-style="italic">μ</tspan>' + parts[1];
  }
 });
 fig.appendChild(svg);
});

// ---------- legends ----------
const modLegendItems = [[C.blue,"S<sub>1</sub>"],[C.orange,"S<sub>2</sub>"],[C.yellow,"S<sub>3</sub>"]];
const chiLegendItems = [[C.blue,'<span class="gk">χ</span><sub>2,1</sub>(<span class="gk">τ</span>,0)'],[C.orange,'<span class="gk">χ</span><sub>3,2</sub>(<span class="gk">τ</span>,0)'],[C.yellow,'<span class="gk">χ</span><sub>1,3</sub>(<span class="gk">τ</span>,0)']];
const dopLegendItems = [[C.blue,"s<sub>1</sub>"],[C.orange,"s<sub>2</sub>"],[C.yellow,"s<sub>3</sub>"]];
const legendBoxes = [
 [203,201,47,modLegendItems],[633,201,83,chiLegendItems],[1237,119,46,dopLegendItems],
 [67,379,48,modLegendItems],[515,377,83,chiLegendItems],[1237,461,46,dopLegendItems],
 [67,720,48,modLegendItems],[507,712,83,chiLegendItems],[1237,803,46,dopLegendItems],
 [203,1228,47,modLegendItems],[633,1228,83,chiLegendItems],[1237,1146,46,dopLegendItems],
 [204,1405,47,modLegendItems],[633,1570,83,chiLegendItems],[1237,1489,46,dopLegendItems]
];
legendBoxes.forEach(([x,y,w,items]) => {
 const d = document.createElement("div");
 d.className = "leg";
 d.style.left = x + "px"; d.style.top = y + "px"; d.style.width = w + "px"; d.style.height = "72px";
 d.innerHTML = items.map(([c,h]) => `<div class="row"><span class="sw" style="border-top:1.3px solid ${c}"></span><span>${h}</span></div>`).join("");
 fig.appendChild(d);
});
</script>
</body></html>
